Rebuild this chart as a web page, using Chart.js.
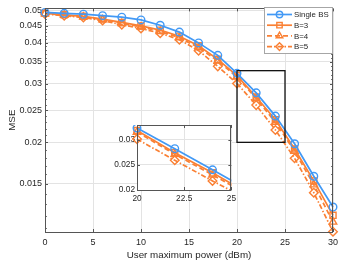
<!DOCTYPE html>
<html>
<head>
<meta charset="utf-8">
<script src="https://cdn.jsdelivr.net/npm/chart.js@4.4.0/dist/chart.umd.min.js"></script>
<style>
  html, body { margin: 0; padding: 0; background: #fff; }
  #wrap { position: relative; width: 345px; height: 268px; }
  #main { position: absolute; left: 0; top: 0; }
  #inset { position: absolute; left: 110px; top: 118px; }
</style>
</head>
<body>
<div id="wrap">
  <canvas id="main" width="345" height="268"></canvas>
  <canvas id="inset" width="130" height="90"></canvas>
</div>
<script>
// Data
const power = [0, 2, 4, 6, 8, 10, 12, 14, 16, 18, 20, 22, 24, 26, 28, 30];
const singleBS = [0.0493, 0.0490, 0.0487, 0.0482, 0.0477, 0.0468, 0.0451, 0.0430, 0.0399, 0.0366, 0.0323, 0.0282, 0.0240, 0.0198, 0.0158, 0.01276];
const b3 = [0.0490, 0.0485, 0.0480, 0.0471, 0.0460, 0.0449, 0.0436, 0.0418, 0.0391, 0.0356, 0.0318, 0.0274, 0.0234, 0.0191, 0.0153, 0.01205];
const b4 = [0.0489, 0.0484, 0.0478, 0.0469, 0.0457, 0.0446, 0.0432, 0.0414, 0.0386, 0.0352, 0.0315, 0.0271, 0.0230, 0.0188, 0.0149, 0.0115];
const b5 = [0.0488, 0.0482, 0.0476, 0.0466, 0.0453, 0.0441, 0.0427, 0.0408, 0.0378, 0.0339, 0.0301, 0.0259, 0.0218, 0.0179, 0.0141, 0.01075];
const seriesNames = ["Single BS", "B=3", "B=4", "B=5"];

const xTicks = [0, 5, 10, 15, 20, 25, 30];
const yTicks = [0.015, 0.02, 0.025, 0.03, 0.035, 0.04, 0.045, 0.05];
const yTickLabels = ["0.015", "0.02", "0.025", "0.03", "0.035", "0.04", "0.045", "0.05"];
const insetXTicks = [20, 22.5, 25];
const insetXLabels = ["20", "22.5", "25"];
const insetYTicks = [0.02, 0.025, 0.03];
const insetYLabels = ["0.02", "0.025", "0.03"];

const BLUE = "rgb(66,153,245)";
const ORANGE = "rgb(250,128,52)";
const TEXT = "#262626";
const FONT = "'Liberation Sans', Arial, Helvetica, sans-serif";
const GRID = "#e3e3e3";

// log minor ticks every 0.001 between 0.011 and 0.05
const yMinor = [];
for (let k = 11; k <= 50; k++) yMinor.push(k / 1000);

function toPoints(vals, fromX) {
  return power.map((p, i) => ({ x: p, y: vals[i] })).filter((d) => d.x >= (fromX || 0));
}

function buildDatasets(fromX) {
  const common = { borderWidth: 1.7, pointBorderWidth: 1.4, pointBackgroundColor: "rgba(0,0,0,0)", tension: 0 };
  return [
    { ...common, label: seriesNames[0], data: toPoints(singleBS, fromX), borderColor: BLUE, pointBorderColor: BLUE, pointStyle: "circle", pointRadius: 3.8 },
    { ...common, label: seriesNames[1], data: toPoints(b3, fromX), borderColor: ORANGE, pointBorderColor: ORANGE, pointStyle: "rect", pointRadius: 4.3 },
    { ...common, label: seriesNames[2], data: toPoints(b4, fromX), borderColor: ORANGE, pointBorderColor: ORANGE, pointStyle: "triangle", pointRadius: 4.3, borderDash: [5, 3] },
    { ...common, label: seriesNames[3], data: toPoints(b5, fromX), borderColor: ORANGE, pointBorderColor: ORANGE, pointStyle: "rectRot", pointRadius: 4.3, borderDash: [5, 2, 1.5, 2] },
  ];
}

// Hollow marker for the legend
function drawMarker(ctx, style, x, y, r) {
  ctx.beginPath();
  if (style === "circle") {
    ctx.arc(x, y, r, 0, Math.PI * 2);
  } else if (style === "rect") {
    const s = r * Math.SQRT1_2;
    ctx.rect(x - s, y - s, 2 * s, 2 * s);
  } else if (style === "triangle") {
    ctx.moveTo(x, y - r);
    ctx.lineTo(x + r * 0.87, y + r * 0.5);
    ctx.lineTo(x - r * 0.87, y + r * 0.5);
    ctx.closePath();
  } else {
    ctx.moveTo(x, y - r);
    ctx.lineTo(x + r, y);
    ctx.lineTo(x, y + r);
    ctx.lineTo(x - r, y);
    ctx.closePath();
  }
  ctx.stroke();
}

// MATLAB-like box, inward ticks, zoom rectangle and legend
const axesBox = {
  id: "axesBox",
  beforeDraw(chart, args, opts) {
    if (!opts.fill) return;
    const { ctx, chartArea: a } = chart;
    ctx.save();
    ctx.fillStyle = "#fff";
    ctx.fillRect(a.left, a.top, a.right - a.left, a.bottom - a.top);
    ctx.restore();
  },
  afterDatasetsDraw(chart, args, opts) {
    const { ctx, chartArea: a, scales } = chart;
    const x = scales.x, y = scales.y;
    ctx.save();

    if (opts.zoomBox) {
      const z = opts.zoomBox;
      const l = x.getPixelForValue(z.x0), r = x.getPixelForValue(z.x1);
      const t = y.getPixelForValue(z.y1), b = y.getPixelForValue(z.y0);
      ctx.strokeStyle = "#111";
      ctx.lineWidth = 1.3;
      ctx.strokeRect(l, t, r - l, b - t);
    }

    ctx.strokeStyle = "#555";
    ctx.lineWidth = 1;
    ctx.strokeRect(Math.round(a.left) + 0.5, Math.round(a.top) + 0.5, Math.round(a.right - a.left) - 1, Math.round(a.bottom - a.top));

    ctx.beginPath();
    opts.xTicks.forEach((v) => {
      const px = Math.round(x.getPixelForValue(v)) + 0.5;
      ctx.moveTo(px, a.bottom); ctx.lineTo(px, a.bottom - 3);
      ctx.moveTo(px, a.top); ctx.lineTo(px, a.top + 3);
    });
    opts.yTicks.forEach((v) => {
      const py = Math.round(y.getPixelForValue(v)) + 0.5;
      ctx.moveTo(a.left, py); ctx.lineTo(a.left + 3, py);
      ctx.moveTo(a.right, py); ctx.lineTo(a.right - 3, py);
    });
    (opts.yMinor || []).forEach((v) => {
      const py = Math.round(y.getPixelForValue(v)) + 0.5;
      ctx.moveTo(a.left, py); ctx.lineTo(a.left + 1.8, py);
      ctx.moveTo(a.right, py); ctx.lineTo(a.right - 1.8, py);
    });
    ctx.stroke();
    ctx.restore();
  },
  afterDraw(chart, args, opts) {
    if (!opts.legend) return;
    const { ctx } = chart;
    const L = opts.legend;
    ctx.save();
    ctx.fillStyle = "#fff";
    ctx.fillRect(L.left, L.top, L.width, L.height);
    ctx.strokeStyle = "#a6a6a6";
    ctx.lineWidth = 1;
    ctx.strokeRect(L.left + 0.5, L.top + 0.5, L.width, L.height);
    ctx.font = "7.9px " + FONT;
    ctx.textBaseline = "middle";
    chart.data.datasets.forEach((ds, i) => {
      const cy = L.top + 7.5 + i * 10.7;
      ctx.strokeStyle = ds.borderColor;
      ctx.lineWidth = ds.borderWidth;
      ctx.setLineDash(ds.borderDash || []);
      ctx.beginPath();
      ctx.moveTo(L.left + 3, cy);
      ctx.lineTo(L.left + 28, cy);
      ctx.stroke();
      ctx.setLineDash([]);
      ctx.lineWidth = ds.pointBorderWidth;
      drawMarker(ctx, ds.pointStyle, L.left + 15.5, cy, ds.pointStyle === "circle" ? 3.2 : 3.8);
      ctx.fillStyle = TEXT;
      ctx.fillText(ds.label, L.left + 30, cy + 0.5);
    });
    ctx.restore();
  },
};

new Chart(document.getElementById("main"), {
  type: "line",
  data: { datasets: buildDatasets(0) },
  plugins: [axesBox],
  options: {
    responsive: false,
    devicePixelRatio: 1,
    animation: false,
    clip: false,
    layout: { padding: { top: 5, right: 12, left: 0, bottom: 0 } },
    plugins: {
      legend: { display: false },
      tooltip: { enabled: false },
      axesBox: {
        xTicks: xTicks,
        yTicks: yTicks,
        yMinor: yMinor,
        zoomBox: { x0: 20, x1: 25, y0: 0.02, y1: 0.0329 },
        legend: { left: 264, top: 7, width: 68, height: 46 },
      },
    },
    scales: {
      x: {
        type: "linear",
        min: 0,
        max: 30,
        afterBuildTicks: (s) => { s.ticks = xTicks.map((v) => ({ value: v })); },
        afterFit: (s) => { s.height = 36; },
        ticks: { color: TEXT, font: { family: FONT, size: 9 }, padding: 5, maxRotation: 0, callback: (v) => String(v) },
        grid: { color: GRID, drawTicks: false, lineWidth: 1 },
        border: { display: false },
        title: { display: true, text: "User maximum power (dBm)", color: TEXT, font: { family: FONT, size: 9.8 }, padding: { top: 0, bottom: 7 } },
      },
      y: {
        type: "logarithmic",
        min: 0.01073,
        max: 0.0507,
        afterBuildTicks: (s) => { s.ticks = yTicks.map((v) => ({ value: v })); },
        afterFit: (s) => { s.width = 45; },
        ticks: { color: TEXT, font: { family: FONT, size: 9 }, padding: 3, callback: (v) => yTickLabels[yTicks.indexOf(v)] },
        grid: { color: GRID, drawTicks: false, lineWidth: 1 },
        border: { display: false },
        title: { display: true, text: "MSE", color: TEXT, font: { family: FONT, size: 9.8 }, padding: { top: 6, bottom: 0 } },
      },
    },
  },
});

new Chart(document.getElementById("inset"), {
  type: "line",
  data: { datasets: buildDatasets(20) },
  plugins: [axesBox],
  options: {
    responsive: false,
    devicePixelRatio: 1,
    animation: false,
    clip: { left: 6, top: 0, right: 0, bottom: 0 },
    layout: { padding: { top: 6, right: 5, left: 0, bottom: 0 } },
    plugins: {
      legend: { display: false },
      tooltip: { enabled: false },
      axesBox: { fill: true, xTicks: insetXTicks, yTicks: insetYTicks },
    },
    scales: {
      x: {
        type: "linear",
        min: 20,
        max: 25,
        afterBuildTicks: (s) => { s.ticks = insetXTicks.map((v) => ({ value: v })); },
        afterFit: (s) => { s.height = 18; },
        ticks: { color: TEXT, font: { family: FONT, size: 8.3 }, padding: 4, maxRotation: 0, callback: (v) => insetXLabels[insetXTicks.indexOf(v)] },
        grid: { color: GRID, drawTicks: false },
        border: { display: false },
      },
      y: {
        type: "linear",
        min: 0.02,
        max: 0.0329,
        afterBuildTicks: (s) => { s.ticks = insetYTicks.map((v) => ({ value: v })); },
        afterFit: (s) => { s.width = 27; },
        ticks: { color: TEXT, font: { family: FONT, size: 8.3 }, padding: 2, callback: (v) => insetYLabels[insetYTicks.indexOf(v)] },
        grid: { color: GRID, drawTicks: false },
        border: { display: false },
      },
    },
  },
});
</script>
</body>
</html>
